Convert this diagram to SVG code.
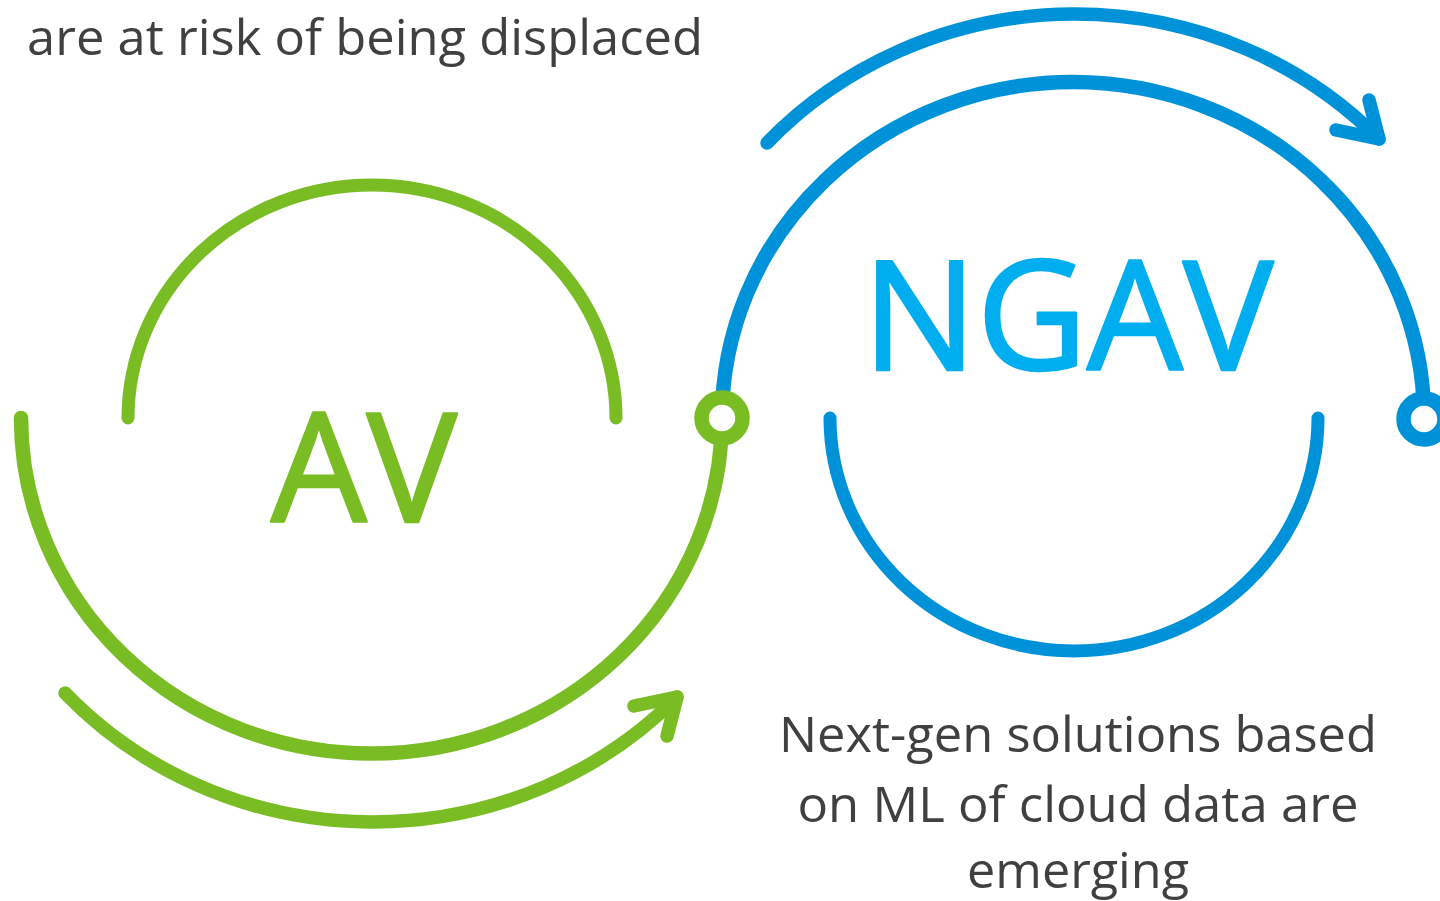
<svg xmlns="http://www.w3.org/2000/svg" width="1440" height="901" viewBox="0 0 1440 901">
<style>
.g{fill:none;stroke:#7ABC23;stroke-linecap:round;stroke-linejoin:round}
.b{fill:none;stroke:#0092D8;stroke-linecap:round;stroke-linejoin:round}
.outer{stroke-width:14.5}
.inner{stroke-width:13}
.arr{stroke-width:13.5}
.ring{fill:#fff;stroke-width:14.5}
.txt{font-family:"Open Sans","Noto Sans","Liberation Sans",sans-serif;fill:#404040}
.big{font-family:"Open Sans","Noto Sans","Liberation Sans",sans-serif;font-size:152px;stroke-width:2.5;stroke-linejoin:round}
</style>
<rect width="1440" height="901" fill="#fff"/>
<g id="caption-top">
<text class="txt" x="27" y="55" font-size="50" textLength="676" lengthAdjust="spacingAndGlyphs">are at risk of being displaced</text>
</g>
<g id="connectors">
<path class="b outer" d="M722,418 A350.5,335.5 0 0 1 1424,418"/>
<path class="b arr" d="M767,143 A420,403 0 0 1 1379,139"/>
<polyline class="b arr" points="1336,130 1379,139 1369,100"/>
<path class="g arr" d="M65,693 A420,403 0 0 0 677,697"/>
<polyline class="g arr" points="634,706 677,697 667,736"/>
</g>
<g id="node-av">
<path class="g outer" d="M21,418 A350.5,335.5 0 0 0 722,418"/>
<path class="g inner" d="M128,418 A244,233 0 0 1 616,418"/>
<text class="big" x="364" y="522" text-anchor="middle" fill="#7ABC23" stroke="#7ABC23" textLength="186" lengthAdjust="spacingAndGlyphs">AV</text>
<circle class="g ring" cx="722" cy="418" r="20.5"/>
</g>
<g id="node-ngav">
<path class="b inner" d="M830,418 A244,233 0 0 0 1318,418"/>
<text class="big" x="1068" y="370" text-anchor="middle" fill="#00AEEF" stroke="#00AEEF" textLength="411" lengthAdjust="spacingAndGlyphs">NGAV</text>
<circle class="b ring" cx="1424" cy="419" r="20.5"/>
</g>
<g id="caption-bottom">
<text class="txt" x="1078" y="752" font-size="50" text-anchor="middle" textLength="598" lengthAdjust="spacingAndGlyphs">Next-gen solutions based</text>
<text class="txt" x="1078" y="822" font-size="50" text-anchor="middle" textLength="561" lengthAdjust="spacingAndGlyphs">on ML of cloud data are</text>
<text class="txt" x="1078" y="888" font-size="50" text-anchor="middle" textLength="222" lengthAdjust="spacingAndGlyphs">emerging</text>
</g>
</svg>
